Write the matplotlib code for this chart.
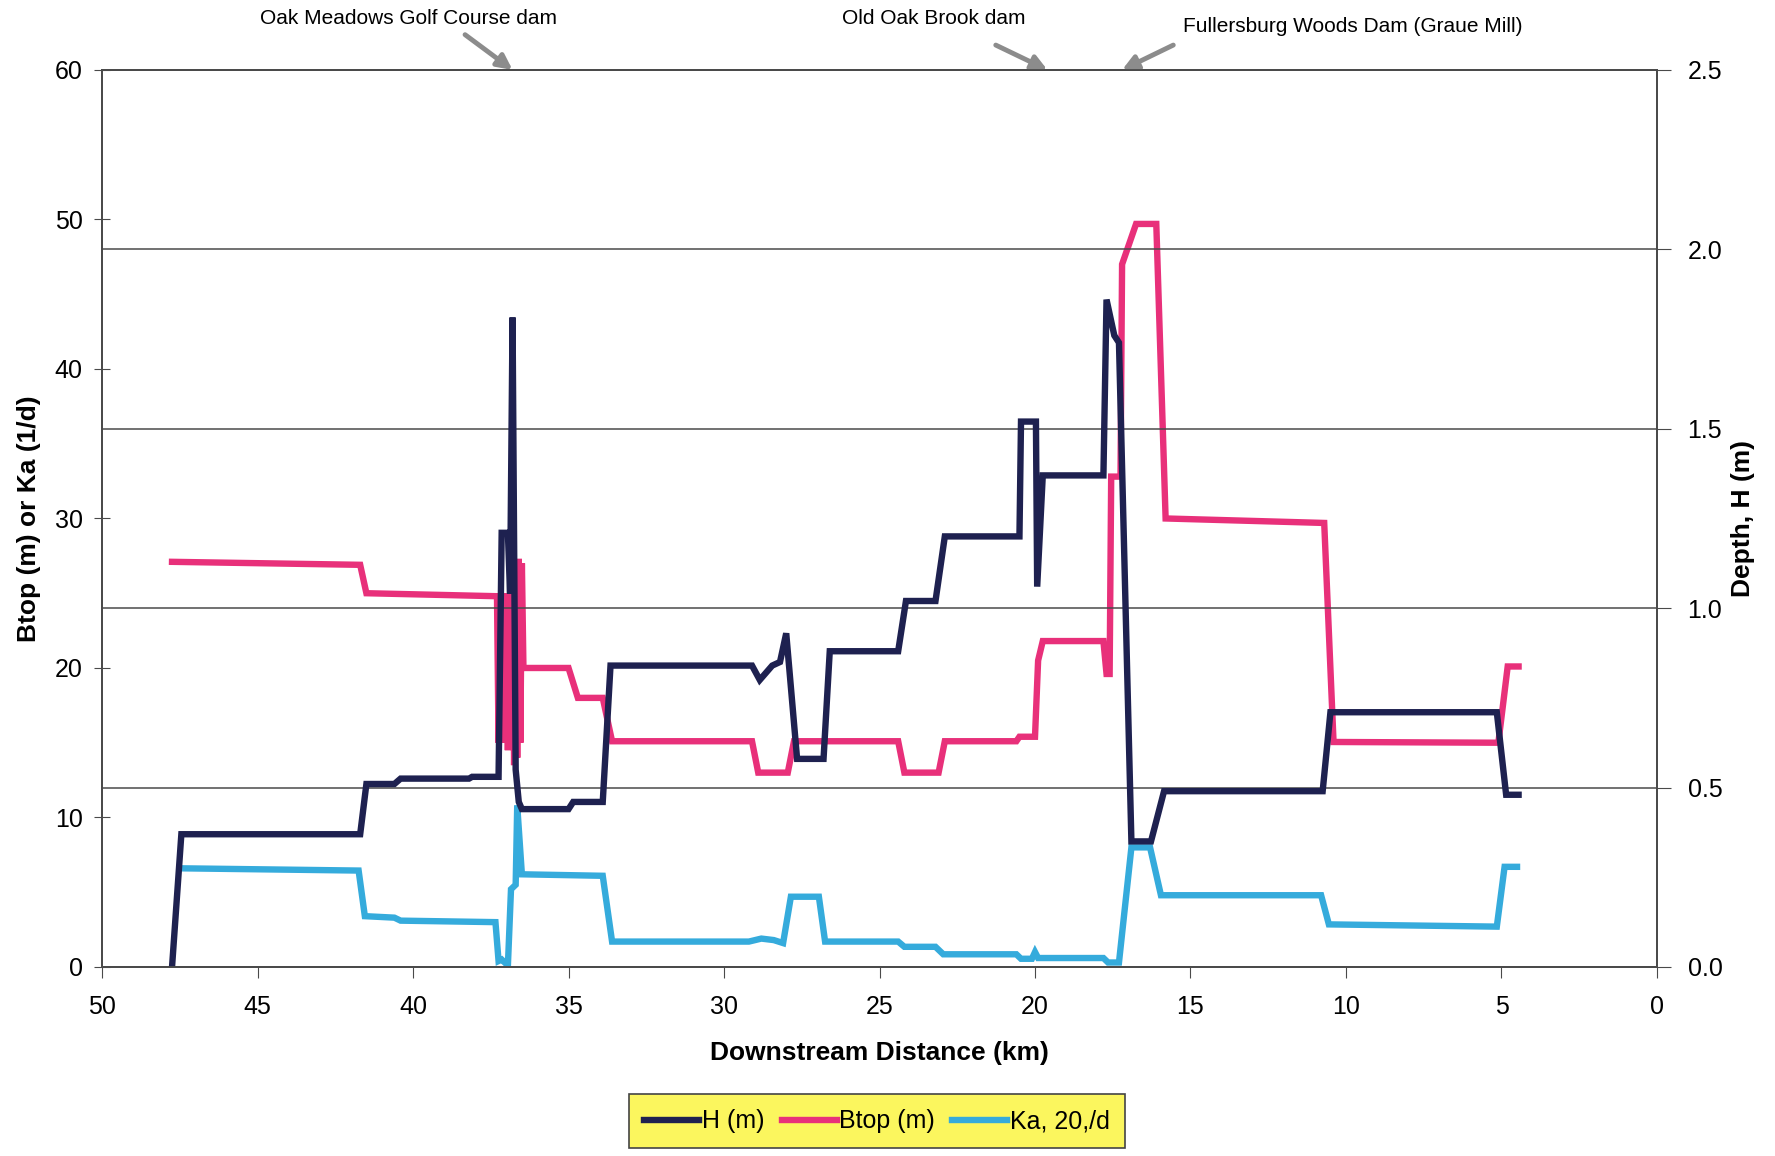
"""Btop, Ka and depth along the downstream profile."""

import matplotlib

matplotlib.use("Agg")
import matplotlib.pyplot as plt
from matplotlib.lines import Line2D
from matplotlib.ticker import FuncFormatter

plt.rcParams["font.family"] = ["Liberation Sans", "DejaVu Sans"]

# depth H (m), right axis
h_km = [47.75, 47.45, 41.7, 41.5, 40.6, 40.4, 38.2, 38.1, 37.25, 37.15, 36.95, 36.88,
        36.8, 36.7, 36.6, 36.5, 35.0, 34.85, 33.9, 33.65, 29.1, 28.85, 28.45, 28.2,
        28.0, 27.65, 26.8, 26.6, 24.4, 24.15, 23.2, 22.9, 20.5, 20.45, 19.97, 19.93,
        19.75, 17.8, 17.7, 17.45, 17.3, 16.9, 16.27, 15.85, 10.75, 10.5, 5.15, 4.85, 4.45]
h_m = [0.00, 0.37, 0.37, 0.51, 0.51, 0.525, 0.525, 0.53, 0.53, 1.21, 1.21, 1.04,
       1.81, 0.55, 0.46, 0.44, 0.44, 0.46, 0.46, 0.84, 0.84, 0.80, 0.84, 0.85,
       0.93, 0.58, 0.58, 0.88, 0.88, 1.02, 1.02, 1.20, 1.20, 1.52, 1.52, 1.06,
       1.37, 1.37, 1.86, 1.76, 1.74, 0.35, 0.35, 0.49, 0.49, 0.71, 0.71, 0.48, 0.48]

# top width Btop (m), left axis
btop_km = [47.75, 41.7, 41.5, 37.3, 37.25, 37.2, 37.15, 37.1, 37.05, 37.0, 36.95,
           36.9, 36.85, 36.8, 36.75, 36.7, 36.65, 36.6, 36.55, 36.5, 36.45, 35.0,
           34.7, 33.9, 33.6, 29.1, 28.9, 27.95, 27.75, 24.4, 24.2, 23.1, 22.9, 20.6,
           20.5, 20.0, 19.9, 19.75, 17.8, 17.7, 17.6, 17.55, 17.25, 17.2, 16.75, 16.1,
           15.8, 10.7, 10.4, 5.1, 4.8, 4.45]
btop_m = [27.1, 26.9, 25.0, 24.8, 15.0, 25.0, 15.0, 24.5, 15.5, 25.0, 14.5,
          24.5, 15.0, 25.5, 13.5, 25.0, 14.0, 27.3, 15.0, 27.0, 20.0, 20.0,
          18.0, 18.0, 15.1, 15.1, 13.0, 13.0, 15.1, 15.1, 13.0, 13.0, 15.1, 15.1,
          15.4, 15.4, 20.5, 21.8, 21.8, 19.6, 19.6, 32.8, 32.8, 47.0, 49.7, 49.7,
          30.0, 29.7, 15.05, 15.0, 20.1, 20.1]

# reaeration Ka at 20 C (1/d), left axis
ka_km = [47.45, 41.75, 41.55, 40.6, 40.4, 37.35, 37.25, 37.15, 36.95, 36.85, 36.7,
         36.65, 36.5, 33.9, 33.6, 29.2, 28.8, 28.4, 28.1, 27.85, 26.95, 26.75, 24.4,
         24.2, 23.2, 22.95, 20.6, 20.45, 20.1, 20.0, 19.9, 17.8, 17.65, 17.3, 16.9,
         16.3, 15.95, 10.8, 10.55, 5.15, 4.9, 4.5]
ka_d = [6.6, 6.45, 3.4, 3.3, 3.1, 3.0, 0.4, 0.5, 0.1, 5.2, 5.5,
        10.8, 6.2, 6.1, 1.7, 1.7, 1.9, 1.8, 1.6, 4.7, 4.7, 1.7, 1.7,
        1.35, 1.35, 0.85, 0.85, 0.55, 0.55, 1.0, 0.6, 0.6, 0.3, 0.3, 8.0,
        8.0, 4.8, 4.8, 2.85, 2.7, 6.7, 6.7]

dams = ["Oak Meadows Golf Course dam", "Old Oak Brook dam",
        "Fullersburg Woods Dam (Graue Mill)"]
dam_km = [36.8, 19.6, 17.2]

C_H = "#1e2150"
C_B = "#e8307a"
C_K = "#35abdc"
LW = 4.6

fig = plt.figure(figsize=(17.75, 11.56), dpi=100)
ax = fig.add_axes([0.0575, 0.1635, 0.876, 0.776])
ax2 = ax.twinx()

ax.plot(ka_km, ka_d, color=C_K, lw=LW, solid_joinstyle="miter")
ax.plot(btop_km, btop_m, color=C_B, lw=LW, solid_joinstyle="miter")
ax2.plot(h_km, h_m, color=C_H, lw=LW, solid_joinstyle="miter")

ax.set_xlim(50, 0)
ax.set_ylim(0, 60)
ax2.set_ylim(0, 2.5)
ax.set_xticks(range(50, -1, -5))
ax.set_yticks(range(0, 61, 10))
ax2.set_yticks([0, 0.5, 1.0, 1.5, 2.0, 2.5])
ax2.yaxis.set_major_formatter(FuncFormatter(lambda v, p: f"{v:.1f}"))
ax2.grid(axis="y", color="#4a4a4a", lw=1.1)

for a in (ax, ax2):
    for s in a.spines.values():
        s.set_color("#4a4a4a")
        s.set_linewidth(1.3)
ax.tick_params(axis="y", direction="inout", length=12, labelsize=18, color="#4a4a4a", pad=8)
ax.tick_params(axis="x", direction="out", length=8, labelsize=18, color="#4a4a4a", pad=12)
ax2.tick_params(axis="y", direction="out", length=10, labelsize=18, color="#4a4a4a", pad=12)

ax.set_xlabel("Downstream Distance (km)", fontsize=19, fontweight="bold", labelpad=16)
ax.set_ylabel("Btop (m) or Ka (1/d)", fontsize=19, fontweight="bold", labelpad=10)
ax2.set_ylabel("Depth, H (m)", fontsize=19, fontweight="bold", labelpad=6)

# dam call-outs above the plot
txt_pos = [(0.230, 0.984), (0.526, 0.984), (0.762, 0.977)]
tail_pos = [(0.262, 0.970), (0.561, 0.961), (0.661, 0.961)]
for name, km, tp, tl in zip(dams, dam_km, txt_pos, tail_pos):
    fig.text(tp[0], tp[1], name, fontsize=15, ha="center", va="center")
    ax.annotate("", xy=(km, 60), xycoords="data", xytext=tl, textcoords="figure fraction",
                annotation_clip=False,
                arrowprops=dict(arrowstyle="-|>", color="#8c8c8c", lw=3.5,
                                mutation_scale=22, shrinkA=0, shrinkB=0))

handles = [Line2D([], [], color=C_H, lw=LW), Line2D([], [], color=C_B, lw=LW),
           Line2D([], [], color=C_K, lw=LW)]
leg = fig.legend(handles, ["H (m)", "Btop (m)", "Ka, 20,/d"], loc="center",
                 bbox_to_anchor=(0.494, 0.030), ncol=3, fontsize=18, frameon=True,
                 fancybox=False, handlelength=2.2, handletextpad=0.1,
                 columnspacing=0.7, borderpad=0.6, borderaxespad=0)
leg.get_frame().set_facecolor("#fbf65e")
leg.get_frame().set_edgecolor("#444444")
leg.get_frame().set_linewidth(1.2)
leg.get_frame().set_alpha(1)

fig.savefig("out.png", dpi=100)
